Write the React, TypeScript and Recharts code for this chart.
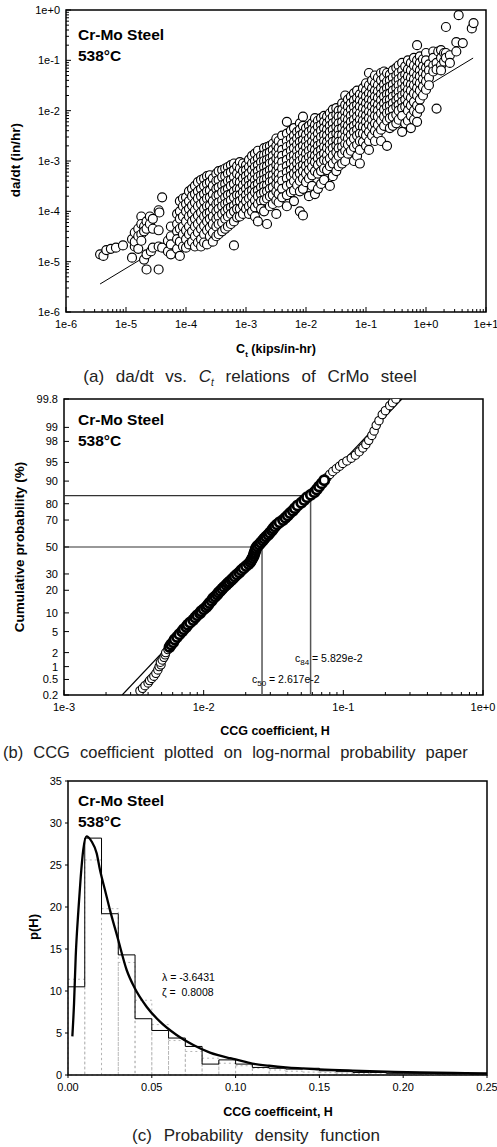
import React from 'react';
import {
  ScatterChart,
  Scatter,
  ComposedChart,
  Line,
  XAxis,
  YAxis,
  ReferenceArea,
  ReferenceLine,
} from 'recharts';

const FONT = '"Liberation Sans", Arial, Helvetica, sans-serif';

// ---------- (a) da/dt vs Ct ----------
const rateXTicks = [1e-6, 1e-5, 1e-4, 1e-3, 1e-2, 1e-1, 1, 10];
const rateXLabels = ['1e-6', '1e-5', '1e-4', '1e-3', '1e-2', '1e-1', '1e+0', '1e+1'];
const rateYTicks = [1e-6, 1e-5, 1e-4, 1e-3, 1e-2, 1e-1, 1];
const rateYLabels = ['1e-6', '1e-5', '1e-4', '1e-3', '1e-2', '1e-1', '1e+0'];

// [Ct, da/dt] for the sparse low-Ct tests
const lowCtPoints: [number, number][] = [
  [3.7e-6, 1.4e-5], [4.2e-6, 1.3e-5], [4.7e-6, 1.7e-5], [5.6e-6, 1.8e-5], [6.8e-6, 1.9e-5], [8.9e-6, 2.1e-5],
  [1.26e-5, 2.8e-5], [1.26e-5, 1.2e-5], [1.4e-5, 3.8e-5], [1.4e-5, 2.0e-5], [1.4e-5, 2.5e-5],
  [1.6e-5, 4.5e-5], [1.6e-5, 3.2e-5], [1.6e-5, 1.8e-5],
  [1.8e-5, 7.9e-5], [1.8e-5, 5.6e-5], [1.8e-5, 3.5e-5], [1.8e-5, 2.6e-5],
  [2.0e-5, 5.0e-5], [2.0e-5, 4.0e-5], [2.0e-5, 1.1e-5],
  [2.2e-5, 6.3e-5], [2.2e-5, 4.5e-5], [2.2e-5, 7e-6], [2.2e-5, 1.4e-5],
  [2.5e-5, 7.9e-5], [2.5e-5, 5.6e-5], [2.6e-5, 1.6e-5],
  [2.8e-5, 7.1e-5], [2.8e-5, 4.5e-5], [2.8e-5, 1.9e-5],
  [3.5e-5, 1.05e-4], [3.6e-5, 9.5e-5], [3.5e-5, 4.2e-5], [3.5e-5, 7e-6], [3.5e-5, 2.0e-5],
  [4.0e-5, 1.9e-4], [4.0e-5, 1.9e-5], [5.0e-5, 2.6e-5], [5.0e-5, 1.6e-5],
];

// main scatter band, grouped by Ct
const bandColumns: { ct: number; rates: number[] }[] = [
  { ct: 5.6e-5, rates: [5.0e-5, 3.2e-5, 2.2e-5, 1.4e-5] },
  { ct: 7.1e-5, rates: [8.9e-5, 5.6e-5, 4.0e-5, 2.8e-5, 1.8e-5] },
  { ct: 7.9e-5, rates: [1.6e-4, 1.0e-4, 7.1e-5, 4.5e-5, 2.5e-5, 1.3e-5] },
  { ct: 8.9e-5, rates: [1.8e-4, 1.26e-4, 7.9e-5, 5.0e-5, 3.5e-5, 2.0e-5] },
  { ct: 1.0e-4, rates: [1.9e-4, 1.4e-4, 1.0e-4, 6.3e-5, 4.2e-5, 2.8e-5, 1.9e-5] },
  { ct: 1.12e-4, rates: [2.5e-4, 1.6e-4, 1.12e-4, 7.9e-5, 5.0e-5, 3.5e-5, 2.2e-5] },
  { ct: 1.26e-4, rates: [2.8e-4, 2.0e-4, 1.3e-4, 8.9e-5, 6.3e-5, 4.0e-5, 2.5e-5] },
  { ct: 1.41e-4, rates: [3.2e-4, 2.2e-4, 1.5e-4, 1.05e-4, 7.1e-5, 5.0e-5, 3.2e-5, 2.0e-5] },
  { ct: 1.58e-4, rates: [3.8e-4, 2.5e-4, 1.8e-4, 1.26e-4, 8.3e-5, 5.6e-5, 3.8e-5, 2.4e-5] },
  { ct: 1.78e-4, rates: [4.2e-4, 2.8e-4, 2.0e-4, 1.4e-4, 9.5e-5, 6.6e-5, 4.5e-5, 2.8e-5, 2.0e-5] },
  { ct: 2.0e-4, rates: [4.5e-4, 3.2e-4, 2.2e-4, 1.6e-4, 1.12e-4, 7.9e-5, 5.2e-5, 3.5e-5, 2.4e-5] },
  { ct: 2.24e-4, rates: [5.0e-4, 3.5e-4, 2.5e-4, 1.8e-4, 1.26e-4, 8.9e-5, 6.3e-5, 4.2e-5, 2.2e-5] },
  { ct: 2.5e-4, rates: [5.2e-4, 3.8e-4, 2.6e-4, 1.9e-4, 1.3e-4, 9.5e-5, 7.1e-5, 4.8e-5, 3.2e-5] },
  { ct: 2.8e-4, rates: [4.5e-4, 3.2e-4, 2.2e-4, 1.6e-4, 1.12e-4, 7.9e-5, 5.6e-5, 3.8e-5, 2.5e-5] },
  { ct: 3.2e-4, rates: [5.6e-4, 4.0e-4, 2.8e-4, 2.0e-4, 1.4e-4, 1.0e-4, 7.1e-5, 5.0e-5, 3.2e-5] },
  { ct: 3.5e-4, rates: [6.3e-4, 4.2e-4, 3.0e-4, 2.1e-4, 1.5e-4, 1.12e-4, 7.9e-5, 5.6e-5, 3.5e-5] },
  { ct: 4.0e-4, rates: [6.6e-4, 4.8e-4, 3.3e-4, 2.4e-4, 1.66e-4, 1.26e-4, 8.9e-5, 6.0e-5, 4.0e-5] },
  { ct: 4.5e-4, rates: [7.1e-4, 5.0e-4, 3.5e-4, 2.6e-4, 1.9e-4, 1.4e-4, 1.0e-4, 7.1e-5, 4.5e-5] },
  { ct: 5.0e-4, rates: [7.6e-4, 5.6e-4, 4.0e-4, 2.8e-4, 2.1e-4, 1.5e-4, 1.12e-4, 7.9e-5, 5.0e-5] },
  { ct: 5.6e-4, rates: [8.3e-4, 6.0e-4, 4.2e-4, 3.2e-4, 2.2e-4, 1.66e-4, 1.2e-4, 8.9e-5, 5.6e-5] },
  { ct: 6.3e-4, rates: [8.9e-4, 6.6e-4, 4.8e-4, 3.5e-4, 2.5e-4, 1.9e-4, 1.3e-4, 1.0e-4, 6.3e-5, 2.1e-5] },
  { ct: 7.1e-4, rates: [7.9e-4, 5.6e-4, 4.0e-4, 2.8e-4, 2.1e-4, 1.5e-4, 1.12e-4, 7.6e-5] },
  { ct: 7.9e-4, rates: [9.5e-4, 7.1e-4, 5.0e-4, 3.8e-4, 2.8e-4, 2.1e-4, 1.6e-4, 1.12e-4, 7.9e-5] },
  { ct: 8.9e-4, rates: [8.9e-4, 6.3e-4, 4.5e-4, 3.3e-4, 2.4e-4, 1.8e-4, 1.3e-4, 8.9e-5] },
  { ct: 1.0e-3, rates: [8.3e-4, 6.6e-4, 5.0e-4, 3.8e-4, 2.8e-4, 2.1e-4, 1.6e-4, 1.12e-4] },
  { ct: 1.12e-3, rates: [1.05e-3, 7.6e-4, 5.6e-4, 4.2e-4, 3.2e-4, 2.4e-4, 1.8e-4, 1.26e-4, 8.9e-5] },
  { ct: 1.26e-3, rates: [1.26e-3, 8.9e-4, 6.6e-4, 4.8e-4, 3.5e-4, 2.6e-4, 2.0e-4, 1.4e-4, 1.0e-4] },
  { ct: 1.41e-3, rates: [1.4e-3, 1.0e-3, 7.6e-4, 5.6e-4, 4.2e-4, 3.2e-4, 2.4e-4, 1.66e-4, 1.2e-4, 7.9e-5] },
  { ct: 1.58e-3, rates: [1.6e-3, 1.12e-3, 8.3e-4, 6.3e-4, 4.8e-4, 3.5e-4, 2.6e-4, 2.0e-4, 1.4e-4, 6.3e-5] },
  { ct: 1.78e-3, rates: [1.26e-3, 9.5e-4, 7.1e-4, 5.2e-4, 4.0e-4, 3.0e-4, 2.2e-4, 1.6e-4, 1.12e-4] },
  { ct: 2.0e-3, rates: [1.8e-3, 1.3e-3, 1.0e-3, 7.6e-4, 5.6e-4, 4.2e-4, 3.2e-4, 2.4e-4, 1.66e-4, 1.0e-4] },
  { ct: 2.24e-3, rates: [1.9e-3, 1.4e-3, 1.05e-3, 7.9e-4, 6.0e-4, 4.5e-4, 3.3e-4, 2.5e-4, 1.8e-4, 5.6e-5] },
  { ct: 2.5e-3, rates: [2.0e-3, 1.5e-3, 1.12e-3, 8.9e-4, 6.6e-4, 5.0e-4, 3.8e-4, 2.8e-4, 2.0e-4, 1.26e-4] },
  { ct: 2.8e-3, rates: [2.2e-3, 1.66e-3, 1.26e-3, 9.5e-4, 7.1e-4, 5.2e-4, 4.0e-4, 3.0e-4, 2.1e-4, 1.4e-4] },
  { ct: 3.2e-3, rates: [2.8e-3, 2.0e-3, 1.5e-3, 1.12e-3, 8.3e-4, 6.3e-4, 4.8e-4, 3.5e-4, 2.5e-4, 1.66e-4, 8.9e-5] },
  { ct: 3.5e-3, rates: [2.5e-3, 1.8e-3, 1.3e-3, 1.0e-3, 7.6e-4, 5.6e-4, 4.2e-4, 3.2e-4, 2.2e-4, 1.5e-4] },
  { ct: 4.0e-3, rates: [3.2e-3, 2.2e-3, 1.66e-3, 1.26e-3, 9.5e-4, 7.1e-4, 5.2e-4, 4.0e-4, 2.8e-4, 1.9e-4] },
  { ct: 4.8e-3, rates: [6.0e-3, 3.5e-3, 2.5e-3, 1.9e-3, 1.4e-3, 1.05e-3, 7.9e-4, 6.0e-4, 4.5e-4, 3.2e-4, 2.1e-4, 1.26e-4] },
  { ct: 5.6e-3, rates: [4.0e-3, 2.8e-3, 2.1e-3, 1.6e-3, 1.2e-3, 8.9e-4, 6.6e-4, 5.0e-4, 3.5e-4, 2.4e-4] },
  { ct: 6.3e-3, rates: [4.5e-3, 3.2e-3, 2.4e-3, 1.8e-3, 1.3e-3, 1.0e-3, 7.6e-4, 5.6e-4, 4.0e-4, 2.6e-4, 1.6e-4] },
  { ct: 7.1e-3, rates: [3.8e-3, 2.8e-3, 2.1e-3, 1.6e-3, 1.2e-3, 8.9e-4, 6.6e-4, 5.0e-4, 3.3e-4] },
  { ct: 7.9e-3, rates: [5.6e-3, 4.2e-3, 3.2e-3, 2.4e-3, 1.8e-3, 1.3e-3, 1.0e-3, 7.6e-4, 5.6e-4, 4.0e-4, 2.5e-4, 1.0e-4] },
  { ct: 8.9e-3, rates: [7.6e-3, 5.0e-3, 3.5e-3, 2.6e-3, 2.0e-3, 1.5e-3, 1.12e-3, 8.3e-4, 6.3e-4, 4.5e-4, 2.8e-4, 8.3e-5] },
  { ct: 1.0e-2, rates: [4.5e-3, 3.3e-3, 2.5e-3, 1.9e-3, 1.4e-3, 1.05e-3, 7.9e-4, 5.6e-4, 3.8e-4] },
  { ct: 1.12e-2, rates: [5.0e-3, 3.8e-3, 2.8e-3, 2.1e-3, 1.6e-3, 1.2e-3, 8.9e-4, 6.6e-4, 4.5e-4, 2.0e-4] },
  { ct: 1.26e-2, rates: [5.6e-3, 4.2e-3, 3.2e-3, 2.4e-3, 1.8e-3, 1.3e-3, 1.0e-3, 7.6e-4, 5.2e-4, 3.2e-4] },
  { ct: 1.41e-2, rates: [7.1e-3, 5.2e-3, 4.0e-3, 3.0e-3, 2.2e-3, 1.66e-3, 1.26e-3, 9.5e-4, 6.3e-4, 2.2e-4] },
  { ct: 1.58e-2, rates: [6.3e-3, 4.8e-3, 3.5e-3, 2.6e-3, 2.0e-3, 1.5e-3, 1.12e-3, 8.3e-4, 5.6e-4, 2.8e-4] },
  { ct: 1.78e-2, rates: [7.1e-3, 5.2e-3, 4.0e-3, 3.0e-3, 2.2e-3, 1.66e-3, 1.26e-3, 9.5e-4, 6.3e-4, 3.5e-4] },
  { ct: 2.0e-2, rates: [7.9e-3, 6.0e-3, 4.5e-3, 3.3e-3, 2.5e-3, 1.9e-3, 1.4e-3, 1.05e-3, 7.1e-4, 4.2e-4] },
  { ct: 2.24e-2, rates: [7.6e-3, 5.6e-3, 4.2e-3, 3.2e-3, 2.4e-3, 1.8e-3, 1.3e-3, 1.0e-3, 6.6e-4] },
  { ct: 2.5e-2, rates: [8.9e-3, 6.6e-3, 5.0e-3, 3.8e-3, 2.8e-3, 2.1e-3, 1.6e-3, 1.12e-3, 7.9e-4, 3.2e-4] },
  { ct: 2.8e-2, rates: [1.05e-2, 7.6e-3, 5.6e-3, 4.2e-3, 3.2e-3, 2.4e-3, 1.8e-3, 1.3e-3, 8.9e-4, 5.0e-4] },
  { ct: 3.2e-2, rates: [1.12e-2, 8.3e-3, 6.3e-3, 4.8e-3, 3.5e-3, 2.6e-3, 2.0e-3, 1.5e-3, 1.05e-3, 6.3e-4] },
  { ct: 3.5e-2, rates: [1.0e-2, 7.6e-3, 5.6e-3, 4.2e-3, 3.2e-3, 2.4e-3, 1.8e-3, 1.26e-3, 7.9e-4] },
  { ct: 4.0e-2, rates: [1.4e-2, 1.05e-2, 7.9e-3, 6.0e-3, 4.5e-3, 3.3e-3, 2.5e-3, 1.9e-3, 1.4e-3, 8.9e-4] },
  { ct: 4.5e-2, rates: [2.0e-2, 1.3e-2, 9.5e-3, 7.1e-3, 5.2e-3, 4.0e-3, 3.0e-3, 2.2e-3, 1.6e-3, 1.0e-3] },
  { ct: 5.0e-2, rates: [1.66e-2, 1.2e-2, 8.9e-3, 6.6e-3, 5.0e-3, 3.8e-3, 2.8e-3, 2.1e-3, 1.4e-3] },
  { ct: 5.6e-2, rates: [1.9e-2, 1.4e-2, 1.05e-2, 7.9e-3, 6.0e-3, 4.5e-3, 3.3e-3, 2.4e-3, 1.6e-3] },
  { ct: 6.3e-2, rates: [2.2e-2, 1.6e-2, 1.2e-2, 8.9e-3, 6.6e-3, 5.0e-3, 3.8e-3, 2.8e-3, 1.9e-3, 1.0e-3] },
  { ct: 7.1e-2, rates: [2.5e-2, 1.8e-2, 1.3e-2, 1.0e-2, 7.6e-3, 5.6e-3, 4.2e-3, 3.2e-3, 2.1e-3, 1.26e-3] },
  { ct: 7.9e-2, rates: [2.1e-2, 1.6e-2, 1.2e-2, 8.9e-3, 6.6e-3, 5.0e-3, 3.5e-3, 2.5e-3, 1.66e-3, 8.9e-4] },
  { ct: 8.9e-2, rates: [2.8e-2, 2.0e-2, 1.5e-2, 1.12e-2, 8.3e-3, 6.3e-3, 4.8e-3, 3.5e-3, 2.4e-3] },
  { ct: 0.1, rates: [3.5e-2, 2.5e-2, 1.9e-2, 1.4e-2, 1.05e-2, 7.9e-3, 6.0e-3, 4.5e-3, 3.2e-3, 2.0e-3] },
  { ct: 0.112, rates: [5.6e-2, 3.2e-2, 2.2e-2, 1.66e-2, 1.26e-2, 9.5e-3, 7.1e-3, 5.2e-3, 3.8e-3, 2.5e-3, 1.66e-3] },
  { ct: 0.126, rates: [4.0e-2, 2.8e-2, 2.1e-2, 1.6e-2, 1.2e-2, 8.9e-3, 6.6e-3, 4.8e-3, 3.2e-3] },
  { ct: 0.141, rates: [5.0e-2, 3.5e-2, 2.5e-2, 1.9e-2, 1.4e-2, 1.05e-2, 7.9e-3, 5.6e-3, 4.0e-3, 2.5e-3] },
  { ct: 0.158, rates: [4.5e-2, 3.2e-2, 2.4e-2, 1.8e-2, 1.3e-2, 1.0e-2, 7.6e-3, 5.2e-3, 3.5e-3] },
  { ct: 0.178, rates: [5.6e-2, 4.0e-2, 2.8e-2, 2.1e-2, 1.6e-2, 1.2e-2, 8.9e-3, 6.3e-3, 4.2e-3, 2.5e-3] },
  { ct: 0.2, rates: [6.0e-2, 4.5e-2, 3.3e-2, 2.5e-2, 1.9e-2, 1.4e-2, 1.05e-2, 7.6e-3, 5.0e-3] },
  { ct: 0.224, rates: [5.6e-2, 3.8e-2, 2.8e-2, 2.1e-2, 1.6e-2, 1.2e-2, 8.9e-3, 6.3e-3, 2.0e-3] },
  { ct: 0.25, rates: [5.2e-2, 4.0e-2, 3.0e-2, 2.2e-2, 1.66e-2, 1.26e-2, 9.5e-3, 7.1e-3, 4.5e-3] },
  { ct: 0.28, rates: [6.3e-2, 4.5e-2, 3.3e-2, 2.5e-2, 1.9e-2, 1.4e-2, 1.05e-2, 7.6e-3, 5.0e-3] },
  { ct: 0.32, rates: [7.1e-2, 5.0e-2, 3.8e-2, 2.8e-2, 2.1e-2, 1.6e-2, 1.2e-2, 8.3e-3, 5.6e-3] },
  { ct: 0.35, rates: [7.9e-2, 5.6e-2, 4.2e-2, 3.2e-2, 2.4e-2, 1.8e-2, 1.3e-2, 1.0e-2, 6.6e-3] },
  { ct: 0.4, rates: [8.9e-2, 6.3e-2, 4.8e-2, 3.5e-2, 2.6e-2, 2.0e-2, 1.5e-2, 1.12e-2, 7.9e-3, 3.8e-3] },
  { ct: 0.45, rates: [7.6e-2, 5.2e-2, 4.0e-2, 3.0e-2, 2.2e-2, 1.66e-2, 1.2e-2, 5.6e-3] },
  { ct: 0.5, rates: [0.1, 6.6e-2, 4.8e-2, 3.5e-2, 2.6e-2, 2.0e-2, 1.4e-2, 1.0e-2, 6.3e-3] },
  { ct: 0.56, rates: [8.9e-2, 6.3e-2, 4.5e-2, 3.3e-2, 2.5e-2, 1.8e-2, 1.26e-2, 7.9e-3, 4.5e-3] },
  { ct: 0.63, rates: [0.112, 7.9e-2, 5.6e-2, 4.2e-2, 3.2e-2, 2.2e-2, 1.5e-2, 1.0e-2, 6.6e-3] },
  { ct: 0.71, rates: [0.2, 0.1, 7.1e-2, 5.0e-2, 3.8e-2, 2.8e-2, 2.0e-2, 1.26e-2, 8.9e-3, 6.0e-3] },
  { ct: 0.79, rates: [0.12, 8.9e-2, 6.3e-2, 4.8e-2, 3.5e-2, 2.5e-2, 1.66e-2, 1.1e-2] },
  { ct: 0.89, rates: [0.105, 7.6e-2, 5.6e-2, 4.2e-2, 3.0e-2, 2.0e-2] },
  { ct: 1.0, rates: [0.14, 0.1, 7.1e-2, 5.2e-2, 3.8e-2, 2.6e-2] },
  { ct: 1.12, rates: [8.3e-2, 6.3e-2, 4.5e-2, 3.2e-2] },
  { ct: 1.32, rates: [0.15, 0.112, 7.9e-2, 6.0e-2] },
  { ct: 1.5, rates: [8.9e-2, 6.6e-2, 1.1e-2] },
  { ct: 1.6, rates: [0.15] },
  { ct: 1.78, rates: [0.16, 0.112, 7.9e-2, 6.3e-2] },
  { ct: 2.0, rates: [0.14, 9.5e-2] },
  { ct: 2.15, rates: [0.46, 0.14, 0.112] },
  { ct: 2.5, rates: [0.126, 8.9e-2] },
  { ct: 3.2, rates: [0.23, 0.15] },
  { ct: 3.5, rates: [0.79] },
  { ct: 4.1, rates: [0.22] },
  { ct: 5.8, rates: [0.43] },
  { ct: 6.2, rates: [0.55] },
];

// power-law fit drawn across the data
const rateFit: [number, number][] = [[3.7e-6, 3.6e-6], [6.1, 0.111]];

// ---------- (b) log-normal probability paper ----------
const probLabels = [0.2, 0.5, 1, 2, 5, 10, 20, 30, 50, 70, 80, 90, 95, 98, 99, 99.8];
const ccgXTicks = [1e-3, 1e-2, 1e-1, 1];
const ccgXLabels = ['1e-3', '1e-2', '1e-1', '1e+0'];

// [H, cumulative %]
const ccgSample: [number, number][] = [
  [3.5e-3, 0.26], [3.65e-3, 0.3], [3.8e-3, 0.35], [4.0e-3, 0.41], [4.1e-3, 0.47], [4.25e-3, 0.53],
  [4.4e-3, 0.6], [4.55e-3, 0.7], [4.7e-3, 0.84], [4.8e-3, 1.0], [4.95e-3, 1.1], [4.9e-3, 1.25],
  [5.05e-3, 1.4], [5.2e-3, 1.6], [5.3e-3, 1.8], [5.35e-3, 2.0], [5.55e-3, 2.3], [5.7e-3, 2.6],
  [5.85e-3, 2.9], [6.05e-3, 3.2], [6.2e-3, 3.6], [6.45e-3, 4.0], [6.7e-3, 4.5], [7.0e-3, 5.0],
  [7.2e-3, 5.5], [7.5e-3, 6.0], [7.7e-3, 6.5], [8.0e-3, 7.1], [8.4e-3, 7.8], [8.7e-3, 8.5],
  [9.0e-3, 9.2], [9.4e-3, 9.9], [9.6e-3, 10.6], [1.0e-2, 11.3], [1.04e-2, 12.1], [1.07e-2, 12.9],
  [1.1e-2, 13.8], [1.14e-2, 14.8], [1.17e-2, 15.9], [1.21e-2, 16.8], [1.25e-2, 17.8], [1.28e-2, 18.8],
  [1.32e-2, 19.8], [1.36e-2, 20.8], [1.4e-2, 21.9], [1.45e-2, 23], [1.49e-2, 24], [1.53e-2, 25],
  [1.58e-2, 26], [1.62e-2, 27], [1.67e-2, 28.3], [1.73e-2, 29.6], [1.8e-2, 31], [1.86e-2, 32.6],
  [1.93e-2, 34], [2.01e-2, 35.5], [2.1e-2, 37], [2.16e-2, 38.5], [2.2e-2, 40], [2.24e-2, 41.5],
  [2.28e-2, 43], [2.3e-2, 44.5], [2.32e-2, 46], [2.35e-2, 47.5], [2.37e-2, 49], [2.42e-2, 50.5],
  [2.5e-2, 52], [2.57e-2, 53.5], [2.65e-2, 55], [2.72e-2, 56.5], [2.8e-2, 58], [2.9e-2, 59.5],
  [2.98e-2, 61], [3.08e-2, 62.5], [3.15e-2, 64], [3.24e-2, 65.5], [3.35e-2, 67], [3.5e-2, 68.5],
  [3.7e-2, 70], [3.85e-2, 71.5], [4.0e-2, 73], [4.15e-2, 74.5], [4.35e-2, 76], [4.5e-2, 77.5],
  [4.7e-2, 79], [5.0e-2, 80.5], [5.25e-2, 82], [5.5e-2, 83.3], [5.85e-2, 84.5], [6.2e-2, 85.7],
  [6.45e-2, 86.8], [6.7e-2, 88], [7.0e-2, 89.2], [7.3e-2, 90.3], [7.65e-2, 91.2], [8.0e-2, 92.1],
  [8.4e-2, 92.9], [8.9e-2, 93.6], [9.4e-2, 94.2], [9.9e-2, 94.8], [0.106, 95.3], [0.114, 95.8],
  [0.122, 96.3], [0.13, 96.8], [0.138, 97.3], [0.145, 97.7], [0.152, 98.1], [0.16, 98.5],
  [0.166, 98.8], [0.172, 99.1], [0.18, 99.3], [0.19, 99.5], [0.2, 99.6], [0.215, 99.7],
  [0.225, 99.75], [0.238, 99.8],
];
const ccgFit: [number, number][] = [[2.61e-3, 0.2], [0.262, 99.8]];
const c50 = 2.617e-2;
const c84 = 5.829e-2;
const p84 = 84.13;

// ---------- (c) probability density ----------
const binWidth = 0.01;
const observedDensity = [
  10.5, 28.2, 19.2, 14.3, 6.7, 5.3, 4.4, 3.4, 1.3, 1.8, 1.3, 0.9, 0.8, 0.7, 0.8,
  0.5, 0.4, 0.3, 0.3, 0.2, 0.2, 0.2, 0.15, 0.15, 0.1,
];
const expectedDensity = [
  11.4, 25.6, 19.8, 13.4, 8.9, 6.0, 4.1, 2.8, 2.0, 1.4, 1.1, 0.8, 0.6, 0.45, 0.35,
  0.28, 0.22, 0.17, 0.13, 0.1, 0.08, 0.06, 0.05, 0.04, 0.03,
];
// [H, p(H)] along the fitted log-normal curve
const pdfCurve: [number, number][] = [
  [0.0026, 4.6], [0.0036, 8.5], [0.0046, 14.1], [0.0062, 19.6], [0.0076, 23.6], [0.0091, 26.8],
  [0.011, 28.4], [0.0141, 27.8], [0.0171, 26.4], [0.0191, 24.4], [0.0221, 22.0], [0.0251, 19.6],
  [0.0294, 16.5], [0.035, 12.5], [0.0394, 10.5], [0.047, 8.1], [0.0549, 6.35], [0.0648, 4.76],
  [0.0748, 3.57], [0.0847, 2.66], [0.0967, 2.0], [0.1, 1.85], [0.11, 1.35], [0.12, 1.1],
  [0.13, 0.9], [0.15, 0.67], [0.17, 0.52], [0.19, 0.4], [0.21, 0.3], [0.23, 0.24], [0.25, 0.2],
];
const densityXTicks = [0, 0.05, 0.1, 0.15, 0.2, 0.25];
const densityXLabels = ['0.00', '0.05', '0.10', '0.15', '0.20', '0.25'];
const densityYTicks = [0, 5, 10, 15, 20, 25, 30, 35];

// inverse standard normal CDF (Acklam), used for the probability-paper axis
function probit(p: number): number {
  const a = [-39.69683028665376, 220.9460984245205, -275.9285104469687, 138.357751867269, -30.66479806614716, 2.506628277459239];
  const b = [-54.47609879822406, 161.5858368580409, -155.6989798598866, 66.80131188771972, -13.28068155288572];
  const c = [-0.007784894002430293, -0.3223964580411365, -2.400758277161838, -2.549732539343734, 4.374664141464968, 2.938163982698783];
  const d = [0.007784695709041462, 0.3224671290700398, 2.445134137142996, 3.754408661907416];
  const lo = 0.02425;
  if (p < lo) {
    const q = Math.sqrt(-2 * Math.log(p));
    return (((((c[0] * q + c[1]) * q + c[2]) * q + c[3]) * q + c[4]) * q + c[5]) /
      ((((d[0] * q + d[1]) * q + d[2]) * q + d[3]) * q + 1);
  }
  if (p > 1 - lo) {
    const q = Math.sqrt(-2 * Math.log(1 - p));
    return -(((((c[0] * q + c[1]) * q + c[2]) * q + c[3]) * q + c[4]) * q + c[5]) /
      ((((d[0] * q + d[1]) * q + d[2]) * q + d[3]) * q + 1);
  }
  const q = p - 0.5;
  const r = q * q;
  return ((((((a[0] * r + a[1]) * r + a[2]) * r + a[3]) * r + a[4]) * r + a[5]) * q) /
    (((((b[0] * r + b[1]) * r + b[2]) * r + b[3]) * r + b[4]) * r + 1);
}

const withMinors = (majors: number[]) =>
  majors.flatMap((m, i) => (i === majors.length - 1 ? [m] : [1, 2, 3, 4, 5, 6, 7, 8, 9].map((k) => k * m)));

const findMajor = (majors: number[], v: number) =>
  majors.findIndex((m) => Math.abs(m - v) <= Math.abs(m) * 1e-7 + 1e-12);

// bottom-axis tick: inward (up) or outward (down) mark plus label for majors
function xTick(majors: number[], labels: string[], inward: boolean, dy = 16) {
  return (props: any) => {
    const { x, y, payload } = props;
    const i = findMajor(majors, payload.value);
    const len = i >= 0 ? 5 : 3;
    return (
      <g>
        <line x1={x} x2={x} y1={y} y2={inward ? y - len : y + 3} stroke="#000" strokeWidth={1} />
        {i >= 0 && (
          <text x={x} y={y + dy} textAnchor="middle" fontSize={11} fontFamily={FONT} fill="#000">
            {labels[i]}
          </text>
        )}
      </g>
    );
  };
}

function yTick(majors: number[], labels: string[], inward: boolean) {
  return (props: any) => {
    const { x, y, payload } = props;
    const i = findMajor(majors, payload.value);
    const len = i >= 0 ? 5 : 3;
    return (
      <g>
        <line x1={x} x2={inward ? x + len : x - 3} y1={y} y2={y} stroke="#000" strokeWidth={1} />
        {i >= 0 && (
          <text x={x - 6} y={y + 4} textAnchor="end" fontSize={11} fontFamily={FONT} fill="#000">
            {labels[i]}
          </text>
        )}
      </g>
    );
  };
}

const ring = (r: number, sw: number) => (props: any) =>
  <circle cx={props.cx} cy={props.cy} r={r} fill="#fff" stroke="#000" strokeWidth={sw} />;
const noMarker = () => <g />;

function Txt({ x, y, children, size = 12, weight = 400, anchor = 'middle', rotate = false, style }: any) {
  const tx = anchor === 'middle' ? '-50%' : anchor === 'end' ? '-100%' : '0';
  return (
    <div
      style={{
        position: 'absolute',
        left: x,
        top: y,
        transform: `translate(${tx}, -50%)${rotate ? ' rotate(-90deg)' : ''}`,
        fontSize: size,
        fontWeight: weight,
        whiteSpace: 'nowrap',
        lineHeight: 1,
        ...style,
      }}
    >
      {children}
    </div>
  );
}

function Badge({ top }: { top: number }) {
  return (
    <>
      <Txt x={78} y={top} size={15.5} weight={700} anchor="start">Cr-Mo Steel</Txt>
      <Txt x={78} y={top + 21} size={15.5} weight={700} anchor="start">538°C</Txt>
    </>
  );
}

const captionStyle = { wordSpacing: 7, color: '#222' };

function RatePanel() {
  const points = [
    ...lowCtPoints.map(([x, y]) => ({ x, y })),
    ...bandColumns.flatMap((c) => c.rates.map((y) => ({ x: c.ct, y }))),
  ];
  const fit = rateFit.map(([x, y]) => ({ x, y }));
  return (
    <div style={{ position: 'absolute', left: 0, top: 0 }}>
      <ScatterChart width={497} height={340} margin={{ top: 10, right: 11, bottom: 0, left: 0 }}>
        <XAxis type="number" dataKey="x" scale="log" domain={[1e-6, 10]} allowDataOverflow
          ticks={withMinors(rateXTicks)} interval={0} tick={xTick(rateXTicks, rateXLabels, true)}
          tickLine={false} axisLine={false} tickSize={0} tickMargin={0} height={28} />
        <YAxis type="number" dataKey="y" scale="log" domain={[1e-6, 1]} allowDataOverflow
          ticks={withMinors(rateYTicks)} interval={0} tick={yTick(rateYTicks, rateYLabels, true)}
          tickLine={false} axisLine={false} tickSize={0} tickMargin={0} width={66} />
        <Scatter data={fit} line={{ stroke: '#000', strokeWidth: 1 }} shape={noMarker} isAnimationActive={false} />
        <Scatter data={points} shape={ring(4.5, 1.15)} isAnimationActive={false} />
        <ReferenceArea x1={1e-6} x2={10} y1={1e-6} y2={1} fill="none" stroke="#000" strokeWidth={1.5} ifOverflow="visible" />
      </ScatterChart>
    </div>
  );
}

function ProbabilityPanel() {
  const zTicks = probLabels.map((p) => probit(p / 100));
  const zMin = zTicks[0];
  const zMax = zTicks[zTicks.length - 1];
  const toPoint = ([x, p]: [number, number]) => ({ x, y: probit(p / 100) });
  // the crowded middle of the sample prints as a solid band, the tails as open rings
  const tails = ccgSample.filter(([, p]) => p < 2.5 || p > 91).map(toPoint);
  const core = ccgSample.filter(([, p]) => p >= 2.5 && p <= 91).map(toPoint);
  const fit = ccgFit.map(toPoint);
  const z50 = 0;
  const z84 = probit(p84 / 100);
  return (
    <div style={{ position: 'absolute', left: 0, top: 390 }}>
      <ScatterChart width={497} height={330} margin={{ top: 9, right: 14, bottom: 0, left: 0 }}>
        <XAxis type="number" dataKey="x" scale="log" domain={[1e-3, 1]} allowDataOverflow
          ticks={withMinors(ccgXTicks)} interval={0} tick={xTick(ccgXTicks, ccgXLabels, true)}
          tickLine={false} axisLine={false} tickSize={0} tickMargin={0} height={25} />
        <YAxis type="number" dataKey="y" domain={[zMin, zMax]} allowDataOverflow
          ticks={zTicks} interval={0} tick={yTick(zTicks, probLabels.map(String), true)}
          tickLine={false} axisLine={false} tickSize={0} tickMargin={0} width={64} />
        <Scatter data={fit} line={{ stroke: '#000', strokeWidth: 1.2 }} shape={noMarker} isAnimationActive={false} />
        <ReferenceLine segment={[{ x: 1e-3, y: z50 }, { x: c50, y: z50 }]} stroke="#333" strokeWidth={1.2} ifOverflow="visible" />
        <ReferenceLine segment={[{ x: c50, y: zMin }, { x: c50, y: z50 }]} stroke="#555" strokeWidth={1.5} ifOverflow="visible" />
        <ReferenceLine segment={[{ x: 1e-3, y: z84 }, { x: c84, y: z84 }]} stroke="#333" strokeWidth={1.2} ifOverflow="visible" />
        <ReferenceLine segment={[{ x: c84, y: zMin }, { x: c84, y: z84 }]} stroke="#555" strokeWidth={1.5} ifOverflow="visible" />
        <Scatter data={tails} shape={ring(4.2, 1.1)} isAnimationActive={false} />
        <Scatter data={core} shape={ring(4.6, 2.8)} isAnimationActive={false} />
        <ReferenceArea x1={1e-3} x2={1} y1={zMin} y2={zMax} fill="none" stroke="#000" strokeWidth={1.5} ifOverflow="visible" />
      </ScatterChart>
    </div>
  );
}

function DensityPanel() {
  const steps = [
    ...observedDensity.map((p, i) => ({ h: i * binWidth, p })),
    { h: observedDensity.length * binWidth, p: observedDensity[observedDensity.length - 1] },
  ];
  const curve = pdfCurve.map(([h, p]) => ({ h, p }));
  return (
    <div style={{ position: 'absolute', left: 0, top: 770 }}>
      <ComposedChart width={497} height={330} margin={{ top: 11, right: 10, bottom: 0, left: 0 }}>
        <XAxis type="number" dataKey="h" domain={[0, 0.25]} allowDataOverflow
          ticks={densityXTicks} interval={0} tick={xTick(densityXTicks, densityXLabels, false, 16)}
          tickLine={false} axisLine={false} tickSize={0} tickMargin={0} height={25} />
        <YAxis type="number" domain={[0, 35]} allowDataOverflow
          ticks={densityYTicks} interval={0} tick={yTick(densityYTicks, densityYTicks.map(String), false)}
          tickLine={false} axisLine={false} tickSize={0} tickMargin={0} width={68} />
        {expectedDensity.map((v, i) => (
          <ReferenceArea key={i} x1={i * binWidth} x2={(i + 1) * binWidth} y1={0} y2={v}
            fill="none" stroke="#b4b4b4" strokeWidth={1} strokeDasharray="2 3" ifOverflow="visible" />
        ))}
        <Line data={steps} dataKey="p" type="stepAfter" stroke="#000" strokeWidth={1} dot={false} isAnimationActive={false} />
        <Line data={curve} dataKey="p" type="monotone" stroke="#000" strokeWidth={2.3} dot={false} isAnimationActive={false} />
        <ReferenceArea x1={0} x2={0.25} y1={0} y2={35} fill="none" stroke="#000" strokeWidth={1.5} ifOverflow="visible" />
      </ComposedChart>
    </div>
  );
}

export default function App() {
  return (
    <div
      style={{
        position: 'absolute',
        left: 0,
        top: 0,
        width: 497,
        height: 1147,
        background: '#fff',
        overflow: 'hidden',
        fontFamily: FONT,
        color: '#000',
      }}
    >
      <RatePanel />
      <ProbabilityPanel />
      <DensityPanel />

      {/* (a) labels */}
      <Badge top={35} />
      <Txt x={16} y={160} size={13.5} weight={700} rotate>da/dt (in/hr)</Txt>
      <Txt x={276} y={351} size={12.5} weight={700}>
        C<sub style={{ fontSize: 8 }}>t</sub> (kips/in-hr)
      </Txt>
      <Txt x={250} y={378} size={17} style={captionStyle}>
        (a) da/dt vs. <i>C<sub style={{ fontSize: 10 }}>t</sub></i> relations of CrMo steel
      </Txt>

      {/* (b) labels */}
      <Badge top={420} />
      <Txt x={20} y={547} size={13.5} weight={700} rotate>Cumulative probability (%)</Txt>
      <Txt x={252} y={681} size={10.5} anchor="start">
        c<sub style={{ fontSize: 8 }}>50</sub> = 2.617e-2
      </Txt>
      <Txt x={295} y={660} size={10.5} anchor="start">
        c<sub style={{ fontSize: 8 }}>84</sub> = 5.829e-2
      </Txt>
      <Txt x={275} y={731} size={12.5} weight={700}>CCG coefficient, H</Txt>
      <Txt x={3} y={752} size={16.5} anchor="start" style={{ ...captionStyle, wordSpacing: 5.5 }}>
        (b) CCG coefficient plotted on log-normal probability paper
      </Txt>

      {/* (c) labels */}
      <Badge top={801} />
      <Txt x={33} y={927} size={13} weight={700} rotate>p(H)</Txt>
      <Txt x={162} y={977} size={10.5} anchor="start">λ = -3.6431</Txt>
      <Txt x={162} y={992} size={10.5} anchor="start">ζ =&nbsp; 0.8008</Txt>
      <Txt x={278} y={1112} size={12.5} weight={700}>CCG coefficeint, H</Txt>
      <Txt x={256} y={1135} size={17} style={captionStyle}>
        (c) Probability density function
      </Txt>
    </div>
  );
}
